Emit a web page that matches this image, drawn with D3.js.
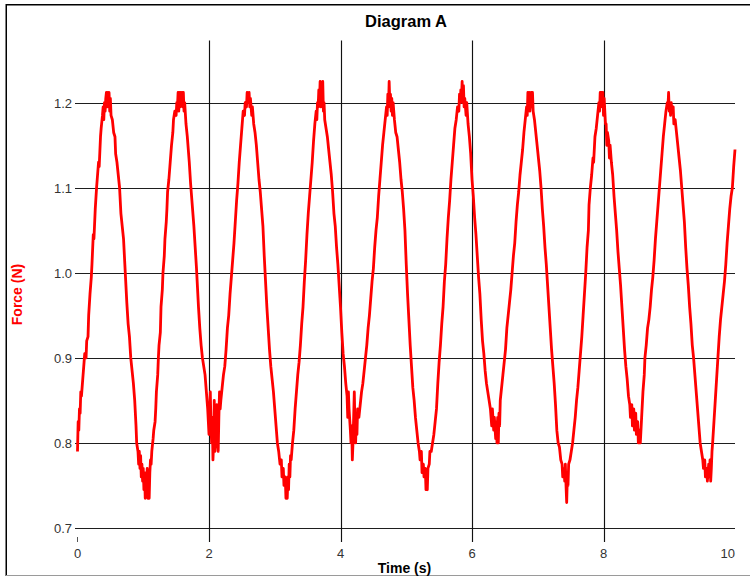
<!DOCTYPE html>
<html><head><meta charset="utf-8">
<script src="https://cdn.jsdelivr.net/npm/d3@7"></script>
<style>body{margin:0;background:#fff}svg{display:block}text{font-family:"Liberation Sans",Arial,sans-serif}</style>
</head><body><svg id="c" width="750" height="577"></svg>
<script>
const chartTitle = "Diagram A";
const xTitle = "Time (s)";
const yTitle = "Force (N)";
const xTicks = [0, 2, 4, 6, 8, 10];
const yTicks = [0.7, 0.8, 0.9, 1.0, 1.1, 1.2];
const xGrid = [2, 4, 6, 8];

// [time (s), force (N)] readings, one swing at a time
const swing1 = [[0.00,0.790],[0.01,0.825],[0.02,0.815],[0.03,0.840],[0.04,0.835],[0.05,0.860],[0.06,0.855],[0.08,0.875],[0.10,0.895],[0.11,0.905],[0.13,0.900],[0.14,0.920],[0.16,0.925],[0.17,0.950],[0.19,0.975],[0.21,0.995],[0.22,1.010],[0.24,1.045],[0.25,1.040],[0.27,1.075],[0.29,1.100],[0.30,1.110],[0.32,1.130],[0.33,1.125],[0.35,1.160],[0.36,1.170],[0.38,1.185],[0.39,1.195],[0.40,1.180],[0.41,1.200],[0.42,1.190],[0.43,1.205],[0.44,1.212],[0.45,1.195],[0.46,1.212],[0.47,1.200],[0.48,1.212],[0.49,1.190],[0.50,1.205],[0.51,1.185]];
const swing2 = [[0.53,1.180],[0.55,1.165],[0.57,1.160],[0.58,1.140],[0.60,1.130],[0.62,1.115],[0.64,1.100],[0.66,1.070],[0.68,1.055],[0.70,1.040],[0.72,1.010],[0.73,0.995],[0.75,0.965],[0.77,0.940],[0.79,0.925],[0.81,0.900],[0.83,0.885],[0.85,0.870],[0.87,0.850],[0.89,0.820],[0.90,0.800],[0.92,0.790],[0.93,0.775],[0.94,0.790],[0.95,0.770],[0.96,0.785],[0.97,0.760],[0.98,0.775],[0.99,0.755],[1.00,0.770],[1.01,0.745],[1.02,0.765],[1.03,0.735],[1.04,0.755],[1.05,0.745],[1.06,0.770],[1.07,0.735],[1.08,0.760],[1.09,0.735],[1.10,0.765],[1.11,0.780],[1.12,0.775],[1.13,0.790],[1.15,0.805],[1.16,0.815],[1.18,0.825]];
const swing3 = [[1.19,0.840],[1.20,0.860],[1.22,0.880],[1.23,0.900],[1.24,0.915],[1.26,0.930],[1.27,0.960],[1.29,0.980],[1.30,1.000],[1.32,1.020],[1.33,1.040],[1.35,1.060],[1.36,1.075],[1.37,1.095],[1.39,1.110],[1.41,1.130],[1.43,1.150],[1.45,1.165],[1.46,1.180],[1.48,1.190],[1.50,1.185],[1.51,1.200],[1.52,1.195],[1.53,1.212],[1.54,1.190],[1.55,1.212],[1.56,1.195],[1.57,1.212],[1.58,1.200],[1.59,1.212],[1.60,1.195],[1.61,1.212],[1.62,1.190],[1.63,1.200]];
const swing4 = [[1.65,1.175],[1.67,1.160],[1.69,1.140],[1.70,1.130],[1.72,1.105],[1.73,1.095],[1.75,1.075],[1.77,1.055],[1.79,1.030],[1.81,1.005],[1.82,0.990],[1.84,0.960],[1.86,0.935],[1.88,0.915],[1.90,0.900],[1.92,0.890],[1.94,0.880],[1.96,0.860],[1.98,0.840],[1.99,0.825],[2.00,0.810],[2.01,0.840],[2.02,0.860],[2.03,0.820],[2.04,0.800],[2.05,0.830],[2.06,0.780],[2.07,0.800],[2.08,0.850],[2.09,0.790],[2.10,0.810],[2.11,0.835],[2.12,0.845],[2.13,0.800],[2.14,0.790],[2.15,0.830],[2.16,0.860],[2.17,0.840],[2.18,0.850],[2.20,0.865],[2.22,0.880],[2.24,0.890],[2.26,0.910],[2.28,0.935],[2.30,0.950],[2.32,0.975],[2.34,0.995],[2.36,1.015],[2.38,1.035],[2.40,1.060],[2.42,1.085],[2.44,1.105],[2.46,1.130],[2.48,1.150],[2.50,1.170],[2.52,1.190],[2.54,1.185],[2.55,1.200],[2.57,1.195],[2.58,1.212],[2.60,1.200],[2.61,1.212],[2.62,1.195],[2.63,1.205],[2.65,1.185],[2.66,1.195],[2.68,1.175]];
const swing5 = [[2.70,1.165],[2.72,1.150],[2.74,1.130],[2.76,1.110],[2.78,1.095],[2.80,1.075],[2.82,1.055],[2.84,1.020],[2.86,0.990],[2.88,0.960],[2.90,0.935],[2.92,0.910],[2.94,0.890],[2.96,0.875],[2.98,0.860],[3.00,0.840],[3.02,0.820],[3.04,0.800],[3.06,0.790],[3.08,0.775],[3.10,0.780],[3.11,0.760],[3.13,0.770],[3.14,0.750],[3.16,0.760],[3.17,0.735],[3.18,0.750],[3.19,0.735],[3.20,0.760],[3.21,0.745],[3.22,0.775],[3.23,0.760],[3.24,0.785],[3.25,0.780],[3.27,0.800],[3.29,0.815],[3.31,0.840],[3.33,0.860],[3.35,0.880],[3.37,0.895],[3.39,0.915],[3.41,0.940],[3.43,0.960],[3.45,0.990],[3.47,1.015],[3.49,1.045],[3.51,1.070],[3.53,1.090],[3.55,1.110],[3.57,1.130],[3.59,1.155],[3.61,1.175],[3.63,1.190],[3.64,1.180],[3.65,1.200],[3.66,1.195],[3.67,1.215],[3.68,1.200],[3.69,1.225],[3.70,1.195],[3.71,1.220],[3.72,1.200],[3.73,1.225],[3.74,1.190],[3.75,1.200],[3.76,1.180]];
const swing6 = [[3.78,1.170],[3.80,1.160],[3.82,1.145],[3.84,1.130],[3.86,1.115],[3.88,1.095],[3.90,1.070],[3.92,1.055],[3.94,1.030],[3.96,1.010],[3.98,0.985],[4.00,0.960],[4.02,0.930],[4.04,0.905],[4.06,0.890],[4.08,0.870],[4.10,0.855],[4.11,0.830],[4.12,0.860],[4.13,0.840],[4.15,0.815],[4.16,0.800],[4.17,0.820],[4.18,0.780],[4.19,0.800],[4.20,0.830],[4.21,0.860],[4.22,0.820],[4.23,0.800],[4.24,0.830],[4.25,0.810],[4.26,0.840],[4.28,0.830],[4.30,0.845],[4.32,0.860],[4.34,0.870],[4.36,0.885],[4.38,0.900],[4.40,0.915],[4.42,0.935],[4.44,0.950],[4.46,0.970],[4.48,0.990],[4.50,1.005],[4.52,1.030],[4.54,1.050],[4.56,1.065],[4.58,1.090],[4.60,1.110],[4.62,1.130],[4.64,1.150],[4.66,1.165],[4.68,1.180],[4.70,1.195],[4.71,1.185],[4.72,1.210],[4.73,1.195],[4.74,1.225],[4.75,1.200],[4.76,1.210],[4.77,1.190],[4.78,1.205],[4.79,1.185],[4.80,1.200],[4.82,1.180]];
const swing7 = [[4.84,1.165],[4.86,1.160],[4.88,1.145],[4.90,1.130],[4.92,1.110],[4.94,1.095],[4.96,1.075],[4.98,1.050],[5.00,1.010],[5.02,0.975],[5.04,0.945],[5.06,0.915],[5.08,0.890],[5.10,0.865],[5.12,0.850],[5.14,0.830],[5.16,0.815],[5.18,0.800],[5.20,0.790],[5.21,0.780],[5.23,0.790],[5.24,0.765],[5.26,0.775],[5.27,0.760],[5.29,0.770],[5.30,0.745],[5.31,0.755],[5.32,0.745],[5.33,0.770],[5.35,0.775],[5.36,0.790],[5.38,0.790],[5.40,0.800],[5.42,0.810],[5.44,0.825],[5.46,0.840],[5.48,0.870],[5.50,0.895],[5.52,0.915],[5.54,0.940],[5.56,0.960],[5.58,0.990],[5.60,1.010],[5.62,1.040],[5.64,1.065],[5.66,1.085],[5.68,1.110],[5.70,1.130],[5.72,1.150],[5.74,1.170],[5.76,1.180],[5.78,1.195],[5.80,1.190],[5.81,1.210],[5.82,1.200],[5.83,1.215],[5.84,1.205],[5.85,1.225],[5.86,1.200],[5.87,1.220],[5.88,1.195],[5.89,1.205],[5.91,1.185],[5.92,1.200],[5.94,1.175]];
const swing8 = [[5.96,1.160],[5.98,1.140],[6.00,1.110],[6.02,1.090],[6.04,1.065],[6.06,1.045],[6.08,1.020],[6.10,0.995],[6.12,0.975],[6.14,0.945],[6.16,0.920],[6.18,0.905],[6.20,0.885],[6.22,0.870],[6.24,0.860],[6.26,0.850],[6.28,0.840],[6.30,0.820],[6.31,0.840],[6.33,0.815],[6.34,0.830],[6.36,0.805],[6.37,0.825],[6.38,0.800],[6.39,0.830],[6.40,0.800],[6.41,0.835],[6.42,0.820],[6.43,0.850],[6.45,0.865],[6.47,0.880],[6.49,0.895],[6.51,0.910],[6.53,0.935],[6.55,0.950],[6.57,0.965],[6.59,0.980],[6.61,1.000],[6.63,1.020],[6.65,1.035],[6.67,1.060],[6.69,1.080],[6.71,1.095],[6.73,1.115],[6.75,1.130],[6.77,1.145],[6.79,1.165],[6.81,1.180],[6.83,1.195],[6.84,1.185],[6.85,1.212],[6.86,1.195],[6.87,1.212],[6.88,1.190],[6.89,1.200],[6.90,1.212],[6.91,1.195],[6.92,1.212],[6.93,1.190],[6.95,1.180]];
const swing9 = [[6.97,1.165],[6.99,1.150],[7.01,1.135],[7.03,1.120],[7.05,1.100],[7.07,1.075],[7.09,1.055],[7.11,1.030],[7.13,1.010],[7.15,0.985],[7.17,0.960],[7.19,0.935],[7.21,0.910],[7.23,0.890],[7.25,0.870],[7.27,0.845],[7.29,0.815],[7.31,0.800],[7.33,0.795],[7.35,0.780],[7.37,0.775],[7.38,0.760],[7.40,0.770],[7.41,0.755],[7.42,0.775],[7.43,0.750],[7.44,0.730],[7.45,0.760],[7.46,0.750],[7.47,0.775],[7.49,0.780],[7.51,0.790],[7.53,0.800],[7.55,0.815],[7.57,0.830],[7.59,0.850],[7.61,0.865],[7.63,0.885],[7.65,0.905],[7.67,0.925],[7.69,0.950],[7.71,0.975],[7.73,1.000],[7.75,1.030],[7.77,1.050],[7.78,1.080],[7.80,1.100],[7.82,1.115],[7.84,1.135],[7.85,1.130],[7.87,1.160],[7.89,1.170],[7.91,1.185],[7.93,1.200],[7.94,1.190],[7.95,1.212],[7.96,1.200],[7.97,1.212],[7.98,1.195],[7.99,1.212],[8.00,1.185],[8.01,1.205],[8.03,1.175]];
const swing10 = [[8.04,1.175],[8.05,1.150],[8.06,1.165],[8.08,1.155],[8.09,1.135],[8.10,1.150],[8.12,1.130],[8.14,1.115],[8.16,1.090],[8.18,1.070],[8.20,1.050],[8.22,1.025],[8.24,1.005],[8.26,0.985],[8.28,0.960],[8.30,0.935],[8.32,0.910],[8.34,0.890],[8.36,0.875],[8.38,0.855],[8.40,0.845],[8.41,0.830],[8.43,0.845],[8.44,0.820],[8.46,0.840],[8.47,0.815],[8.49,0.835],[8.50,0.810],[8.52,0.825],[8.53,0.800],[8.55,0.815],[8.56,0.800],[8.58,0.830],[8.60,0.860],[8.62,0.880],[8.63,0.900],[8.65,0.915],[8.67,0.935],[8.69,0.945],[8.71,0.960],[8.73,0.980],[8.75,0.995],[8.77,1.015],[8.79,1.040],[8.81,1.060],[8.83,1.080],[8.85,1.100],[8.87,1.120],[8.89,1.140],[8.91,1.160],[8.93,1.175],[8.95,1.190],[8.97,1.200],[8.98,1.195],[8.99,1.212],[9.00,1.190],[9.01,1.200],[9.02,1.185],[9.03,1.200],[9.04,1.190],[9.06,1.195],[9.07,1.175],[9.09,1.180]];
const swing11 = [[9.11,1.165],[9.13,1.150],[9.15,1.135],[9.17,1.120],[9.19,1.100],[9.21,1.080],[9.23,1.060],[9.25,1.030],[9.27,1.005],[9.29,0.985],[9.31,0.960],[9.33,0.940],[9.35,0.915],[9.37,0.900],[9.39,0.880],[9.41,0.860],[9.43,0.840],[9.45,0.820],[9.47,0.800],[9.49,0.790],[9.51,0.780],[9.52,0.770],[9.54,0.780],[9.55,0.760],[9.57,0.770],[9.58,0.755],[9.60,0.775],[9.61,0.760],[9.62,0.780],[9.63,0.755],[9.64,0.770],[9.65,0.790],[9.66,0.800],[9.68,0.825],[9.70,0.850],[9.72,0.875],[9.74,0.900],[9.76,0.925],[9.78,0.945],[9.80,0.960],[9.82,0.975],[9.84,0.990],[9.86,1.010],[9.88,1.035],[9.90,1.055],[9.92,1.075],[9.94,1.090],[9.96,1.100],[9.98,1.125],[10.00,1.145]];

const readings = [].concat(swing1, swing2, swing3, swing4, swing5, swing6, swing7, swing8, swing9, swing10, swing11);

const svg = d3.select("#c");
const x = d3.scaleLinear().domain([0, 10]).range([77.5, 735]);
const y = d3.scaleLinear().domain([0.7, 1.2]).range([528, 102.7]);
const plotTop = 40.5, gridBottom = 542;

// frame
svg.append("line").attr("x1", 6).attr("x2", 750).attr("y1", 4.75).attr("y2", 4.75).attr("stroke", "#000").attr("stroke-width", 1.6);
svg.append("line").attr("x1", 6.25).attr("x2", 6.25).attr("y1", 4).attr("y2", 576).attr("stroke", "#000").attr("stroke-width", 1.5);
svg.append("line").attr("x1", 6).attr("x2", 750).attr("y1", 575.5).attr("y2", 575.5).attr("stroke", "#9a9a9a").attr("stroke-width", 1);

// horizontal grid lines + y labels
const yAxis = d3.axisLeft(y).tickValues(yTicks).tickFormat(d3.format(".1f"))
  .tickSize(-(x(10) - x(0)) - 2).tickPadding(5);
const gy = svg.append("g").attr("transform", `translate(${x(0) - 1.5},0)`).call(yAxis);
gy.select(".domain").remove();
gy.selectAll(".tick").attr("transform", d => `translate(0,${Math.round(y(d)) + 0.5})`);
gy.selectAll(".tick line").attr("stroke", "#1e1e1e").attr("stroke-width", 1.15).attr("x1", -1).attr("x2", x(10) - x(0) + 1.5);
gy.selectAll(".tick text").attr("font-size", 13).attr("fill", "#333").attr("x", -4).attr("font-family", '"Liberation Sans", Arial, sans-serif');

// vertical grid lines
svg.append("g").selectAll("line").data(xGrid).join("line")
  .attr("x1", d => Math.round(x(d)) + 0.5).attr("x2", d => Math.round(x(d)) + 0.5)
  .attr("y1", plotTop).attr("y2", gridBottom)
  .attr("stroke", "#111").attr("stroke-width", 1.15);

// small tick at 0
svg.append("g").selectAll("line").data(xTicks.filter(d => d === 0)).join("line")
  .attr("x1", d => Math.round(x(d)) - 0.5).attr("x2", d => Math.round(x(d)) - 0.5)
  .attr("y1", 537).attr("y2", 542).attr("stroke", "#555").attr("stroke-width", 1);

// x labels
svg.append("g").selectAll("text").data(xTicks).join("text")
  .attr("x", d => x(d))
  .attr("y", 557.5)
  .attr("text-anchor", d => d === 10 ? "end" : "middle")
  .attr("font-size", 13).attr("fill", "#333")
  .text(d => d);

// curve
const line = d3.line().x(d => x(d[0])).y(d => y(d[1]));
svg.append("path").datum(readings)
  .attr("d", line).attr("fill", "none")
  .attr("stroke", "#ff0000").attr("stroke-width", 2.8)
  .attr("stroke-linejoin", "round");

// titles
svg.append("text").attr("x", 406).attr("y", 27).attr("text-anchor", "middle")
  .attr("font-size", 16.5).attr("font-weight", "bold").attr("fill", "#000").text(chartTitle);
svg.append("text").attr("x", 404.5).attr("y", 572.5).attr("text-anchor", "middle")
  .attr("font-size", 14).attr("font-weight", "bold").attr("fill", "#000").text(xTitle);
svg.append("text").attr("transform", "translate(21.5,294.5) rotate(-90)").attr("text-anchor", "middle")
  .attr("font-size", 14).attr("font-weight", "bold").attr("fill", "#ff0000").text(yTitle);
</script>
</body></html>
